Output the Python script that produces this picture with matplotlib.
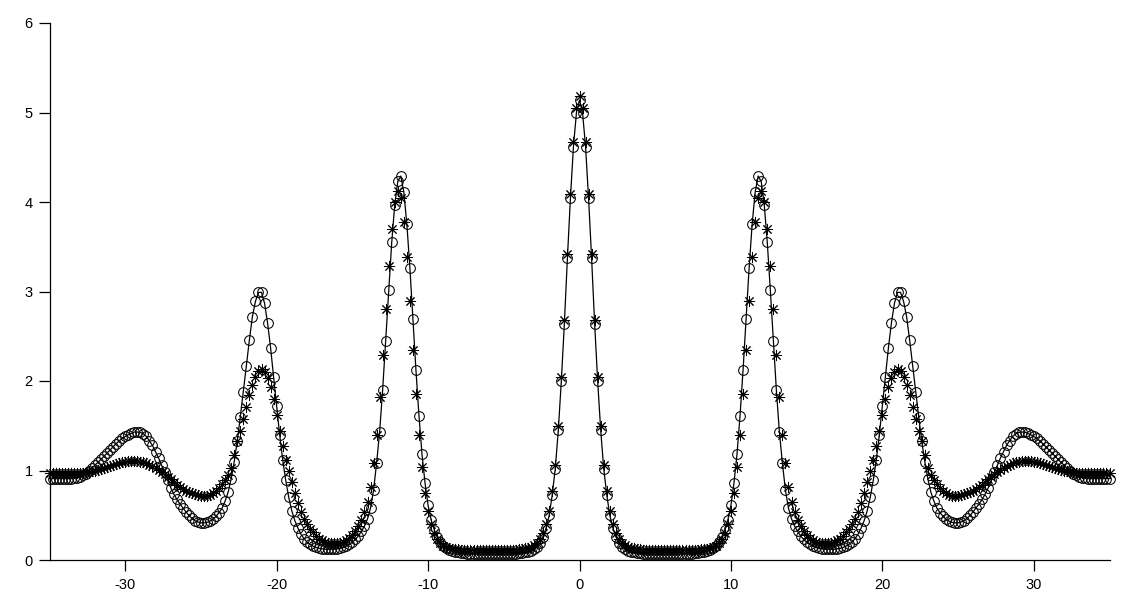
from matplotlib import pyplot as plt
import numpy as np

# sample positions, step 0.2 from -35 to 35
x = np.linspace(-35, 35, 351)

# circles (also drawn with the solid line)
circ = [
    0.91, 0.91, 0.91, 0.91, 0.91, 0.91, 0.91, 0.91, 0.915, 0.92,
    0.93, 0.945, 0.965, 0.99, 1.025, 1.06, 1.09, 1.125, 1.16, 1.195,
    1.23, 1.265, 1.30, 1.33, 1.36, 1.38, 1.40, 1.415, 1.43, 1.43,
    1.425, 1.41, 1.38, 1.33, 1.28, 1.21, 1.14, 1.06, 0.98, 0.89,
    0.81, 0.74, 0.68, 0.63, 0.585, 0.54, 0.50, 0.465, 0.44, 0.425,
    0.415, 0.415, 0.42, 0.435, 0.455, 0.49, 0.53, 0.58, 0.66, 0.76,
    0.91, 1.10, 1.33, 1.60, 1.88, 2.17, 2.46, 2.72, 2.89, 2.99,
    2.99, 2.87, 2.65, 2.37, 2.04, 1.72, 1.40, 1.12, 0.89, 0.70,
    0.55, 0.44, 0.36, 0.29, 0.24, 0.20, 0.175, 0.155, 0.14, 0.13,
    0.125, 0.12, 0.12, 0.12, 0.12, 0.125, 0.13, 0.14, 0.155, 0.175,
    0.20, 0.23, 0.27, 0.32, 0.38, 0.46, 0.58, 0.78, 1.08, 1.43,
    1.90, 2.45, 3.02, 3.55, 3.97, 4.23, 4.29, 4.11, 3.75, 3.26,
    2.69, 2.12, 1.61, 1.18, 0.86, 0.61, 0.45, 0.34, 0.26, 0.20,
    0.16, 0.13, 0.11, 0.10, 0.09, 0.085, 0.08, 0.075, 0.07, 0.07,
    0.07, 0.07, 0.07, 0.07, 0.07, 0.07, 0.07, 0.07, 0.07, 0.07,
    0.07, 0.07, 0.07, 0.07, 0.07, 0.075, 0.08, 0.085, 0.09, 0.10,
    0.12, 0.15, 0.19, 0.26, 0.36, 0.50, 0.73, 1.02, 1.45, 2.00,
    2.64, 3.37, 4.04, 4.62, 5.00, 5.14, 5.00, 4.62, 4.04, 3.37,
    2.64, 2.00, 1.45, 1.02, 0.73, 0.50, 0.36, 0.26, 0.19, 0.15,
    0.12, 0.10, 0.09, 0.085, 0.08, 0.075, 0.07, 0.07, 0.07, 0.07,
    0.07, 0.07, 0.07, 0.07, 0.07, 0.07, 0.07, 0.07, 0.07, 0.07,
    0.07, 0.07, 0.07, 0.075, 0.08, 0.085, 0.09, 0.10, 0.11, 0.13,
    0.16, 0.20, 0.26, 0.34, 0.45, 0.61, 0.86, 1.18, 1.61, 2.12,
    2.69, 3.26, 3.75, 4.11, 4.29, 4.23, 3.97, 3.55, 3.02, 2.45,
    1.90, 1.43, 1.08, 0.78, 0.58, 0.46, 0.38, 0.32, 0.27, 0.23,
    0.20, 0.175, 0.155, 0.14, 0.13, 0.125, 0.12, 0.12, 0.12, 0.12,
    0.125, 0.13, 0.14, 0.155, 0.175, 0.20, 0.24, 0.29, 0.36, 0.44,
    0.55, 0.70, 0.89, 1.12, 1.40, 1.72, 2.04, 2.37, 2.65, 2.87,
    2.99, 2.99, 2.89, 2.72, 2.46, 2.17, 1.88, 1.60, 1.33, 1.10,
    0.91, 0.76, 0.66, 0.58, 0.53, 0.49, 0.455, 0.435, 0.42, 0.415,
    0.415, 0.425, 0.44, 0.465, 0.50, 0.54, 0.585, 0.63, 0.68, 0.74,
    0.81, 0.89, 0.98, 1.06, 1.14, 1.21, 1.28, 1.33, 1.38, 1.41,
    1.425, 1.43, 1.43, 1.415, 1.40, 1.38, 1.36, 1.33, 1.30, 1.265,
    1.23, 1.195, 1.16, 1.125, 1.09, 1.06, 1.025, 0.99, 0.965, 0.945,
    0.93, 0.92, 0.915, 0.91, 0.91, 0.91, 0.91, 0.91, 0.91, 0.91,
    0.91,
]

# asterisks
star = [
    0.97, 0.97, 0.97, 0.97, 0.97, 0.97, 0.97, 0.97, 0.97, 0.97,
    0.97, 0.97, 0.98, 0.98, 0.99, 1.00, 1.01, 1.02, 1.03, 1.04,
    1.05, 1.06, 1.07, 1.08, 1.09, 1.10, 1.105, 1.11, 1.11, 1.105,
    1.10, 1.09, 1.08, 1.065, 1.05, 1.03, 1.01, 0.985, 0.96, 0.93,
    0.90, 0.87, 0.84, 0.815, 0.79, 0.77, 0.755, 0.745, 0.735, 0.73,
    0.72, 0.72, 0.72, 0.73, 0.75, 0.77, 0.80, 0.85, 0.89, 0.95,
    1.03, 1.17, 1.33, 1.44, 1.57, 1.71, 1.84, 1.96, 2.05, 2.11,
    2.13, 2.10, 2.03, 1.93, 1.80, 1.62, 1.44, 1.27, 1.12, 0.99,
    0.87, 0.75, 0.64, 0.54, 0.46, 0.40, 0.35, 0.31, 0.27, 0.24,
    0.22, 0.205, 0.195, 0.19, 0.185, 0.185, 0.19, 0.20, 0.22, 0.245,
    0.28, 0.32, 0.38, 0.45, 0.54, 0.65, 0.82, 1.08, 1.40, 1.82,
    2.29, 2.80, 3.28, 3.70, 4.00, 4.12, 4.04, 3.78, 3.38, 2.89,
    2.35, 1.86, 1.40, 1.04, 0.75, 0.55, 0.40, 0.30, 0.23, 0.19,
    0.16, 0.145, 0.135, 0.125, 0.12, 0.12, 0.115, 0.115, 0.115, 0.115,
    0.115, 0.115, 0.115, 0.115, 0.115, 0.115, 0.115, 0.115, 0.115, 0.115,
    0.115, 0.115, 0.115, 0.115, 0.115, 0.12, 0.125, 0.13, 0.135, 0.145,
    0.165, 0.195, 0.235, 0.305, 0.405, 0.545, 0.775, 1.065, 1.495, 2.045,
    2.685, 3.415, 4.085, 4.665, 5.045, 5.185, 5.045, 4.665, 4.085, 3.415,
    2.685, 2.045, 1.495, 1.065, 0.775, 0.545, 0.405, 0.305, 0.235, 0.195,
    0.165, 0.145, 0.135, 0.13, 0.125, 0.12, 0.115, 0.115, 0.115, 0.115,
    0.115, 0.115, 0.115, 0.115, 0.115, 0.115, 0.115, 0.115, 0.115, 0.115,
    0.115, 0.115, 0.115, 0.115, 0.115, 0.12, 0.12, 0.125, 0.135, 0.145,
    0.16, 0.19, 0.23, 0.30, 0.40, 0.55, 0.75, 1.04, 1.40, 1.86,
    2.35, 2.89, 3.38, 3.78, 4.04, 4.12, 4.00, 3.70, 3.28, 2.80,
    2.29, 1.82, 1.40, 1.08, 0.82, 0.65, 0.54, 0.45, 0.38, 0.32,
    0.28, 0.245, 0.22, 0.20, 0.19, 0.185, 0.185, 0.19, 0.195, 0.205,
    0.22, 0.24, 0.27, 0.31, 0.35, 0.40, 0.46, 0.54, 0.64, 0.75,
    0.87, 0.99, 1.12, 1.27, 1.44, 1.62, 1.80, 1.93, 2.03, 2.10,
    2.13, 2.11, 2.05, 1.96, 1.84, 1.71, 1.57, 1.44, 1.33, 1.17,
    1.03, 0.95, 0.89, 0.85, 0.80, 0.77, 0.75, 0.73, 0.72, 0.72,
    0.72, 0.73, 0.735, 0.745, 0.755, 0.77, 0.79, 0.815, 0.84, 0.87,
    0.90, 0.93, 0.96, 0.985, 1.01, 1.03, 1.05, 1.065, 1.08, 1.09,
    1.10, 1.105, 1.11, 1.11, 1.105, 1.10, 1.09, 1.08, 1.07, 1.06,
    1.05, 1.04, 1.03, 1.02, 1.01, 1.00, 0.99, 0.98, 0.98, 0.97,
    0.97, 0.97, 0.97, 0.97, 0.97, 0.97, 0.97, 0.97, 0.97, 0.97,
    0.97,
]

xticks = [-30, -20, -10, 0, 10, 20, 30]
yticks = [0, 1, 2, 3, 4, 5, 6]

plt.rcParams['font.family'] = ['Liberation Sans', 'DejaVu Sans']
plt.rcParams['axes.unicode_minus'] = False

fig = plt.figure(figsize=(11.24, 6.06), dpi=100)
ax = fig.add_axes([49.5 / 1124, 46 / 606, 1060 / 1124, 537 / 606])

ax.plot(x, circ, color='black', lw=0.9, marker='o', ms=7, mfc='none',
        mec='black', mew=0.75, clip_on=False, zorder=3)
ax.plot(x, star, ls='none', marker=(8, 2, 0), ms=8, mec='black', mew=0.7,
        clip_on=False, zorder=4)

ax.set_xlim(-35, 35)
ax.set_ylim(0, 6)
ax.set_xticks(xticks)
ax.set_yticks(yticks)
ax.spines['top'].set_visible(False)
ax.spines['right'].set_visible(False)
for s in ['left', 'bottom']:
    ax.spines[s].set_linewidth(0.9)
ax.tick_params(direction='out', length=8, width=0.9, labelsize=10.5, color='black')
ax.tick_params(axis='x', pad=5)
ax.tick_params(axis='y', pad=4)

plt.savefig('out.png', dpi=100)
